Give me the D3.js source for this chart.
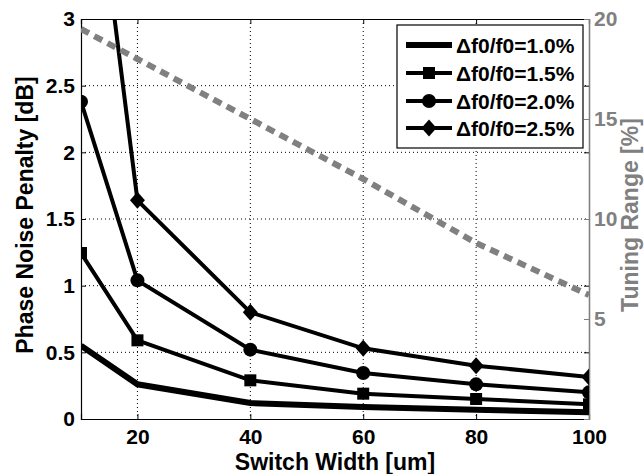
<!DOCTYPE html>
<html><head><meta charset="utf-8">
<script src="https://cdn.jsdelivr.net/npm/d3@7"></script>
<style>body{margin:0;background:#fff}text{font-family:"Liberation Sans",Arial,sans-serif;font-weight:bold}</style>
</head><body><svg id="c" width="644" height="474"></svg>
<script>
const widths = [10, 20, 40, 60, 80, 100];
const seriesNames = ["\u0394f0/f0=1.0%", "\u0394f0/f0=1.5%", "\u0394f0/f0=2.0%", "\u0394f0/f0=2.5%"];
const penalty10 = [0.55, 0.26, 0.12, 0.09, 0.07, 0.05];
const penalty15 = [1.245, 0.59, 0.29, 0.19, 0.15, 0.11];
const penalty20 = [2.38, 1.04, 0.52, 0.345, 0.26, 0.20];
const penalty25 = [5.0, 1.64, 0.80, 0.53, 0.40, 0.315];
const tuningRange = [19.5, 18.0, 15.0, 12.0, 8.8, 6.2];
const xTicks = [20, 40, 60, 80, 100];
const yTicks = [0, 0.5, 1, 1.5, 2, 2.5, 3];
const y2Ticks = [5, 10, 15, 20];
const markers = ["none", "square", "circle", "diamond"];

const svg = d3.select("#c");
const L = 81, R = 589, T = 19, B = 419;
const x = d3.scaleLinear().domain([10, 100]).range([L, R]);
const y = d3.scaleLinear().domain([0, 3]).range([B, T]);
const y2 = d3.scaleLinear().domain([0, 20]).range([B, T]);
const gray = "#808080";
const FS = 21;

svg.append("defs").append("clipPath").attr("id", "clip")
  .append("rect").attr("x", L).attr("y", T).attr("width", R - L).attr("height", B - T);

// grid
const grid = svg.append("g");
xTicks.filter(d => d < 100).forEach(d => grid.append("line")
  .attr("x1", x(d)).attr("x2", x(d)).attr("y1", T).attr("y2", B)
  .attr("stroke", "#000").attr("stroke-width", 1).attr("stroke-dasharray", "1,3"));
yTicks.filter(d => d > 0 && d < 3).forEach(d => grid.append("line")
  .attr("x1", L).attr("x2", R).attr("y1", y(d)).attr("y2", y(d))
  .attr("stroke", "#000").attr("stroke-width", 1).attr("stroke-dasharray", "1,3"));

// axes (left & bottom)
const ax = svg.append("g").attr("transform", `translate(0,${B})`)
  .call(d3.axisBottom(x).tickValues(xTicks).tickSize(-5).tickPadding(10).tickFormat(d3.format("d")));
const ay = svg.append("g").attr("transform", `translate(${L},0)`)
  .call(d3.axisLeft(y).tickValues(yTicks).tickSize(-5).tickPadding(6).tickFormat(d => d));
// top axis & right side ticks of left axis
svg.append("g").attr("transform", `translate(0,${T})`)
  .call(d3.axisTop(x).tickValues(xTicks).tickSize(-5).tickFormat(""));
svg.append("g").attr("transform", `translate(${R},0)`)
  .call(d3.axisRight(y).tickValues(yTicks).tickSize(-5).tickFormat(""));
[ax, ay].forEach(g => g.selectAll("text").attr("font-size", FS).attr("fill", "#000"));
svg.selectAll(".domain").attr("stroke", "#000").attr("stroke-width", 1.2);
svg.selectAll(".tick line").attr("stroke", "#000");

// right axis (gray)
const ay2 = svg.append("g").attr("transform", `translate(${R},0)`)
  .call(d3.axisRight(y2).tickValues(y2Ticks).tickSize(-5).tickPadding(5).tickFormat(d => d));
ay2.select(".domain").attr("stroke", gray).attr("stroke-width", 1.2);
ay2.selectAll(".tick line").attr("stroke", gray);
ay2.selectAll("text").attr("font-size", FS).attr("fill", gray);

// data
const series = [penalty10, penalty15, penalty20, penalty25];
const plot = svg.append("g").attr("clip-path", "url(#clip)");
const line = d3.line().x((d, i) => x(widths[i])).y(d => y(d));
function drawMarker(g, type, cx, cy) {
  if (type === "square") g.append("rect").attr("x", cx - 6).attr("y", cy - 6).attr("width", 12).attr("height", 12).attr("fill", "#000");
  else if (type === "circle") g.append("circle").attr("cx", cx).attr("cy", cy).attr("r", 7).attr("fill", "#000");
  else if (type === "diamond") g.append("path").attr("d", `M${cx},${cy - 8.5}L${cx + 7.5},${cy}L${cx},${cy + 8.5}L${cx - 7.5},${cy}Z`).attr("fill", "#000");
}
series.forEach((s, k) => {
  plot.append("path").datum(s).attr("d", line).attr("fill", "none")
    .attr("stroke", "#000").attr("stroke-width", k === 0 ? 6 : 4).attr("stroke-linejoin", "miter");
  if (markers[k] !== "none") s.forEach((v, i) => drawMarker(plot, markers[k], x(widths[i]), y(v)));
});

// tuning range dashed line
const line2 = d3.line().x((d, i) => x(widths[i])).y(d => y2(d));
svg.append("g").attr("clip-path", "url(#clip)").append("path").datum(tuningRange).attr("d", line2)
  .attr("fill", "none").attr("stroke", gray).attr("stroke-width", 6).attr("stroke-dasharray", "9,6");

// legend
const lg = svg.append("g");
lg.append("rect").attr("x", 397).attr("y", 25).attr("width", 186).attr("height", 123)
  .attr("fill", "#fff").attr("stroke", "#000").attr("stroke-width", 1.2);
const rows = [45, 73, 101, 128];
seriesNames.forEach((n, k) => {
  lg.append("line").attr("x1", 406).attr("x2", 452).attr("y1", rows[k]).attr("y2", rows[k])
    .attr("stroke", "#000").attr("stroke-width", k === 0 ? 6 : 4);
  if (markers[k] !== "none") drawMarker(lg, markers[k], 429, rows[k]);
  lg.append("text").attr("x", 456).attr("y", rows[k] + 7.5).attr("font-size", 21).text(n);
});

// axis titles
svg.append("text").attr("x", 335).attr("y", 470).attr("text-anchor", "middle").attr("font-size", 23).text("Switch Width [um]");
svg.append("text").attr("transform", "translate(33,215) rotate(-90)").attr("text-anchor", "middle").attr("font-size", 23).text("Phase Noise Penalty [dB]");
svg.append("text").attr("transform", "translate(638,215) rotate(-90)").attr("text-anchor", "middle").attr("font-size", 23).attr("fill", gray).text("Tuning Range [%]");
</script></body></html>
